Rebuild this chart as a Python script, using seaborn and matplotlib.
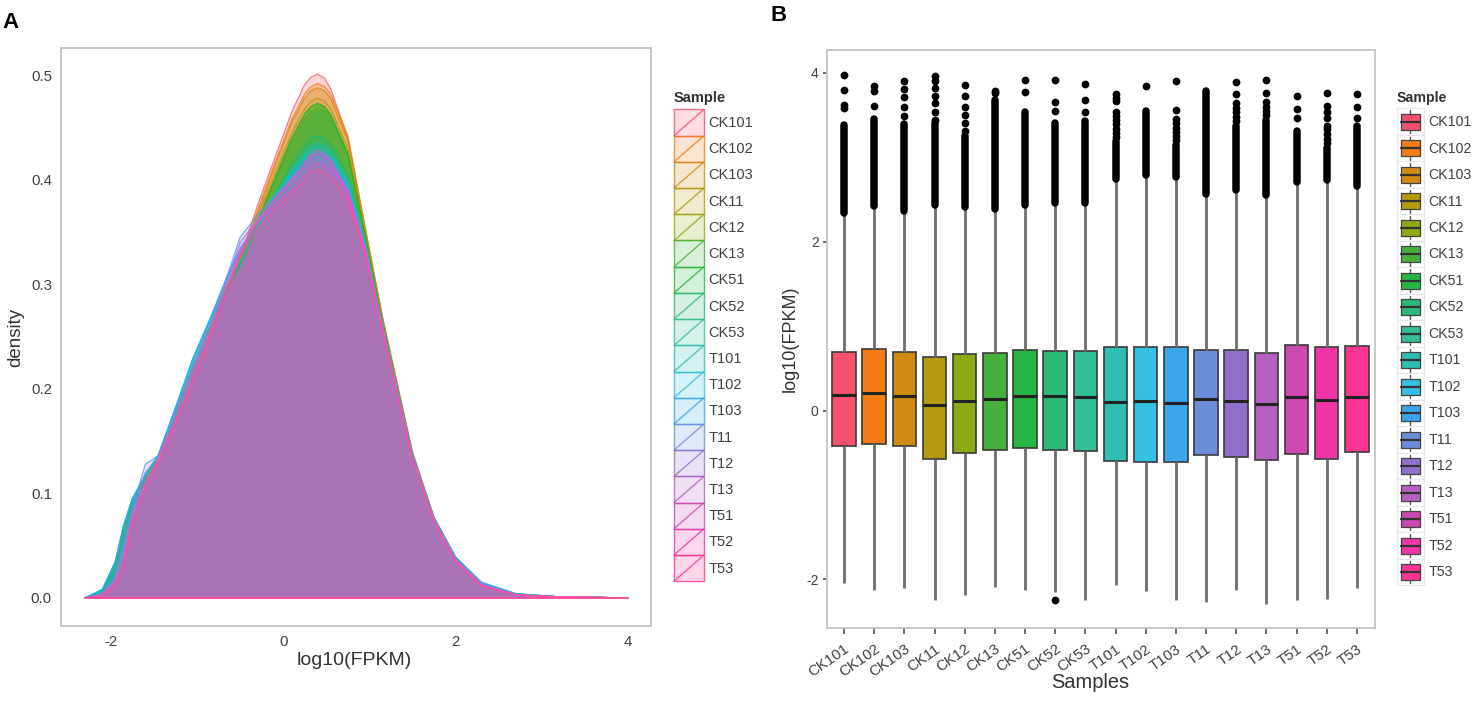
import numpy as np
import pandas as pd
import matplotlib
matplotlib.use("Agg")
import matplotlib.pyplot as plt
from matplotlib.lines import Line2D
from matplotlib.patches import Patch, Rectangle
from matplotlib.legend_handler import HandlerBase
import seaborn as sns

samples = ["CK101", "CK102", "CK103", "CK11", "CK12", "CK13", "CK51", "CK52", "CK53",
           "T101", "T102", "T103", "T11", "T12", "T13", "T51", "T52", "T53"]
colors = ["#F5506E", "#F57C14", "#CE8A12", "#B59A10", "#8CAA14", "#45B03A", "#25B542", "#2DB877", "#35BC98",
          "#2EBDB0", "#35BFE0", "#3AA5E8", "#6C8DD8", "#9070CC", "#B55FC2", "#CC47B0", "#F035A8", "#FF3595"]
density_colors = ["#F6636E", "#EE801D", "#D18E09", "#B69C08", "#90AA0A", "#52B21D", "#12B73C", "#16BB75", "#1ABF9F",
                  "#17BEBA", "#1ABCE1", "#1DA9F1", "#6694EC", "#9F7BE6", "#C868DE", "#E155C9", "#F74BB5", "#FF5097"]
fill_alphas = [.25, .3, .3, .15, .15, .35, .5, .35, .25, .2, .2, .2, .2, .2, .2, .2, .2, .2]

# Panel A: density curves
density_x = [-2.3, -2.1, -1.95, -1.85, -1.75, -1.6, -1.45, -1.25, -1.05, -.85, -.65, -.5, -.3, -.1, .1, .25, .32, .4, .48, .55,
             .75, .95, 1.15, 1.3, 1.5, 1.75, 2.0, 2.3, 2.7, 3.2, 4.0]
d_CK101 = [0, .006, .028, .062, .090, .112, .130, .172, .215, .255, .295, .325, .375, .420, .465, .491, .498, .501, .497, .487, .440, .352, .268, .212, .138, .075, .037, .013, .003, .001, 0]
d_CK102 = [0, .006, .030, .065, .092, .115, .132, .174, .218, .257, .298, .322, .370, .415, .458, .482, .489, .492, .489, .482, .442, .355, .270, .214, .140, .077, .038, .014, .003, .001, 0]
d_CK103 = [0, .007, .031, .067, .093, .115, .133, .175, .218, .256, .296, .322, .368, .412, .455, .478, .485, .488, .485, .478, .438, .354, .268, .212, .138, .076, .037, .013, .003, .001, 0]
d_CK11 = [0, .008, .034, .070, .095, .117, .134, .176, .220, .260, .300, .325, .365, .405, .445, .468, .475, .478, .475, .468, .430, .350, .265, .210, .137, .075, .038, .014, .003, .001, 0]
d_CK12 = [0, .007, .032, .068, .094, .116, .133, .176, .220, .259, .298, .322, .360, .400, .440, .461, .469, .472, .469, .462, .425, .348, .265, .210, .138, .076, .038, .014, .003, .001, 0]
d_CK13 = [0, .007, .030, .066, .092, .114, .132, .175, .220, .258, .297, .320, .358, .398, .436, .458, .465, .468, .466, .460, .424, .347, .264, .210, .137, .075, .037, .013, .003, .001, 0]
d_CK51 = [0, .006, .029, .064, .090, .113, .130, .172, .217, .257, .296, .320, .360, .400, .440, .463, .470, .473, .470, .462, .425, .347, .265, .210, .138, .076, .038, .014, .003, .001, 0]
d_CK52 = [0, .006, .029, .064, .091, .114, .131, .174, .219, .258, .295, .318, .352, .385, .415, .433, .440, .442, .440, .434, .405, .342, .262, .208, .137, .076, .038, .014, .003, .001, 0]
d_CK53 = [0, .007, .031, .066, .093, .116, .134, .177, .222, .261, .300, .322, .352, .382, .410, .426, .433, .435, .433, .428, .400, .340, .262, .208, .138, .077, .039, .014, .004, .001, 0]
d_T101 = [0, .008, .035, .070, .095, .118, .136, .180, .226, .265, .305, .330, .355, .380, .405, .419, .425, .428, .425, .420, .395, .338, .262, .208, .138, .077, .039, .014, .004, .001, 0]
d_T102 = [0, .008, .034, .070, .095, .118, .137, .182, .228, .266, .306, .332, .358, .384, .408, .423, .429, .432, .429, .424, .397, .338, .261, .207, .136, .076, .039, .015, .004, .001, 0]
d_T103 = [0, .007, .032, .067, .093, .117, .136, .182, .229, .267, .308, .334, .358, .381, .404, .417, .423, .425, .423, .418, .393, .336, .260, .206, .136, .076, .039, .015, .004, .001, 0]
d_T11 = [0, .004, .020, .050, .085, .128, .136, .178, .222, .262, .308, .345, .366, .385, .402, .415, .422, .425, .422, .417, .390, .335, .259, .205, .135, .075, .038, .014, .003, .001, 0]
d_T12 = [0, .004, .018, .047, .081, .120, .134, .176, .219, .259, .304, .340, .362, .381, .397, .410, .417, .420, .417, .412, .386, .333, .258, .205, .135, .075, .037, .013, .003, .001, 0]
d_T13 = [0, .003, .016, .042, .077, .112, .132, .172, .216, .256, .300, .334, .360, .381, .400, .416, .425, .428, .425, .419, .390, .336, .260, .206, .136, .075, .037, .013, .003, .001, 0]
d_T51 = [0, .002, .013, .033, .071, .106, .130, .167, .208, .250, .296, .330, .358, .376, .390, .404, .413, .416, .413, .408, .383, .332, .258, .204, .135, .074, .036, .012, .003, .001, 0]
d_T52 = [0, .002, .012, .030, .070, .105, .130, .165, .206, .248, .293, .327, .358, .380, .398, .413, .422, .425, .422, .416, .388, .334, .259, .205, .135, .075, .036, .012, .003, .001, 0]
d_T53 = [0, .002, .012, .031, .072, .107, .131, .167, .208, .250, .294, .326, .352, .372, .386, .399, .407, .410, .407, .403, .380, .331, .257, .204, .135, .074, .036, .012, .003, .001, 0]
density_rows = [d_CK101, d_CK102, d_CK103, d_CK11, d_CK12, d_CK13, d_CK51, d_CK52, d_CK53,
                d_T101, d_T102, d_T103, d_T11, d_T12, d_T13, d_T51, d_T52, d_T53]
density_xticks = [-2, 0, 2, 4]
density_yticks = [0.0, 0.1, 0.2, 0.3, 0.4, 0.5]

# Panel B: box statistics
whisker_lo = [-2.04, -2.12, -2.10, -2.24, -2.18, -2.09, -2.13, -2.15, -2.24, -2.06, -2.14, -2.24, -2.27, -2.12, -2.285, -2.24, -2.23, -2.10]
box_q1 = [-.415, -.40, -.42, -.577, -.498, -.47, -.447, -.462, -.482, -.597, -.605, -.609, -.526, -.553, -.581, -.518, -.577, -.494]
box_med = [.18, .21, .178, .067, .119, .138, .178, .174, .158, .103, .111, .095, .134, .115, .083, .166, .126, .166]
box_q3 = [.69, .727, .695, .64, .664, .68, .715, .71, .704, .751, .755, .751, .723, .723, .68, .779, .751, .767]
whisker_hi = [2.34, 2.417, 2.36, 2.437, 2.41, 2.39, 2.437, 2.46, 2.46, 2.745, 2.79, 2.77, 2.567, 2.615, 2.555, 2.71, 2.73, 2.66]
dense_top = [3.386, 3.456, 3.397, 3.40, 3.25, 3.68, 3.54, 3.41, 3.43, 3.19, 3.55, 3.15, 3.78, 3.37, 3.44, 3.31, 3.11, 3.365]
sparse_fliers = [
    [3.58, 3.62, 3.80, 3.97],
    [3.61, 3.79, 3.84],
    [3.49, 3.60, 3.71, 3.81, 3.90],
    [3.44, 3.54, 3.64, 3.72, 3.82, 3.90, 3.96],
    [3.31, 3.41, 3.50, 3.60, 3.73, 3.86],
    [3.76, 3.79],
    [3.77, 3.91],
    [-2.24, 3.55, 3.66, 3.92],
    [3.53, 3.68, 3.87],
    [3.24, 3.29, 3.34, 3.39, 3.44, 3.49, 3.54, 3.67, 3.70, 3.75],
    [3.84],
    [3.2, 3.25, 3.3, 3.35, 3.4, 3.45, 3.56, 3.90],
    [],
    [3.43, 3.48, 3.53, 3.58, 3.64, 3.75, 3.89],
    [3.50, 3.55, 3.6, 3.66, 3.76, 3.92],
    [3.46, 3.57, 3.73],
    [3.17, 3.22, 3.28, 3.33, 3.37, 3.47, 3.54, 3.61, 3.76],
    [3.47, 3.59, 3.75],
]
box_yticks = [-2, 0, 2, 4]

W, H = 1476, 704
sns.set_theme(style="white")
plt.rcParams["font.family"] = ["Liberation Sans", "DejaVu Sans"]
text_gray = "#404040"
spine_gray = "#c4c4c4"


def px_axes(fig, left, top, right, bottom):
    return fig.add_axes([left / W, 1 - bottom / H, (right - left) / W, (bottom - top) / H])


def style_axes(ax):
    for s in ax.spines.values():
        s.set_color(spine_gray)
        s.set_linewidth(1.3)
        s.set_visible(True)
    ax.grid(False)


class DensityKey(HandlerBase):
    def create_artists(self, legend, h, xd, yd, w, ht, fs, trans):
        x0, y0 = -xd, -yd
        c = h.get_facecolor()[:3]
        r = Rectangle((x0, y0), w, ht, facecolor=(*c, 0.2), edgecolor=(*c, 0.8), lw=1.0, transform=trans)
        l = Line2D([x0, x0 + w], [y0, y0 + ht], color=(*c, 0.8), lw=1.0, transform=trans)
        return [r, l]


class BoxKey(HandlerBase):
    def create_artists(self, legend, h, xd, yd, w, ht, fs, trans):
        x0, y0 = -xd, -yd
        c = h.get_facecolor()[:3]
        frame = Rectangle((x0, y0), w, ht, facecolor="white", edgecolor="#e6e6f0", lw=0.8, transform=trans)
        cx, cy = x0 + w / 2, y0 + ht / 2
        wh = Line2D([cx, cx], [y0 + ht * .07, y0 + ht * .93], color="#555555", lw=1.0, transform=trans)
        box = Rectangle((x0 + w * .13, y0 + ht * .2), w * .74, ht * .6, facecolor=c, edgecolor="#444444", lw=0.9, transform=trans)
        med = Line2D([x0 + w * .13, x0 + w * .87], [cy, cy], color="#333333", lw=1.6, transform=trans)
        return [frame, wh, box, med]


fig = plt.figure(figsize=(W / 100, H / 100), dpi=100, facecolor="white")

# ----- Panel A -----
ax_a = px_axes(fig, 61, 48, 651, 626)
for name, col, alpha, row in zip(samples, density_colors, fill_alphas, density_rows):
    one = pd.DataFrame({"x": density_x, "density": row})
    ax_a.fill_between(one["x"], 0, one["density"], color=col, alpha=alpha, lw=0)
    sns.lineplot(data=one, x="x", y="density", color=col, lw=1.0, alpha=0.8,
                 estimator=None, sort=False, legend=False, ax=ax_a)
    ax_a.hlines(0, density_x[0], density_x[-1], color=col, lw=1.1, alpha=0.85)
ax_a.set_xlim(-2.58, 4.27)
ax_a.set_ylim(-0.0268, 0.526)
ax_a.set_xticks(density_xticks)
ax_a.set_xticklabels([str(v) for v in density_xticks])
ax_a.set_yticks(density_yticks)
ax_a.set_yticklabels([f"{v:.1f}" for v in density_yticks])
style_axes(ax_a)
ax_a.tick_params(axis="both", length=3.5, width=1.1, color="#444444", labelcolor=text_gray, labelsize=10.8, pad=3)
ax_a.set_xlabel("log10(FPKM)", fontsize=14, color="#333333", va="center")
ax_a.xaxis.set_label_coords(0.497, -0.06)
ax_a.set_ylabel("density", fontsize=13.5, color="#333333", va="center")
ax_a.yaxis.set_label_coords(-0.077, 0.5)
h_a = [Patch(facecolor=c, label=s) for s, c in zip(samples, colors)]
leg_a = ax_a.legend(handles=h_a, title="Sample", loc="upper left", bbox_to_anchor=(674 / W, 1 - 91 / H),
                    bbox_transform=fig.transFigure, frameon=False, fontsize=10.5, title_fontsize=10.5,
                    handler_map={Patch: DensityKey()}, handlelength=30 / 14.58, handleheight=2.388,
                    labelspacing=0, borderpad=0, borderaxespad=0, handletextpad=0.3, alignment="left")
leg_a._legend_box.sep = 3.2
leg_a.get_title().set_fontweight("bold")
leg_a.get_title().set_color("#333333")
for t in leg_a.get_texts():
    t.set_color(text_gray)

# ----- Panel B -----
ax_b = px_axes(fig, 827, 50, 1375, 628)
box_df = pd.DataFrame({
    "sample": np.repeat(samples, 5),
    "value": np.column_stack([whisker_lo, box_q1, box_med, box_q3, whisker_hi]).ravel(),
})
sns.boxplot(data=box_df, x="sample", y="value", hue="sample", order=samples, hue_order=samples,
            palette=dict(zip(samples, colors)), dodge=False, width=0.78, saturation=1, whis=(0, 100),
            showcaps=False, showfliers=False, linecolor="#3a3a3a", linewidth=1.2, legend=False,
            whiskerprops={"color": "#6e6e6e", "linewidth": 2.0},
            medianprops={"color": "#222222", "linewidth": 2.2}, ax=ax_b)
flier_df = pd.DataFrame([(s, v) for s, vals in zip(samples, sparse_fliers) for v in vals], columns=["sample", "value"])
sns.stripplot(data=flier_df, x="sample", y="value", order=samples, jitter=False, color="black", size=5.6,
              linewidth=0, legend=False, ax=ax_b)
band = ax_b.vlines(np.arange(len(samples)), whisker_hi, dense_top, color="black", lw=5.4, zorder=4)
band.set_capstyle("round")
ax_b.set_xlim(-0.564, 17.6)
ax_b.set_ylim(-2.575, 4.27)
ax_b.set_yticks(box_yticks)
ax_b.set_yticklabels([str(v) for v in box_yticks])
style_axes(ax_b)
ax_b.tick_params(axis="y", length=3, width=1.1, color="#444444", labelcolor=text_gray, labelsize=10, pad=3, left=True)
ax_b.tick_params(axis="x", length=4, width=1.1, color="#444444", bottom=True, pad=6)
ax_b.set_xticks(range(len(samples)))
ax_b.set_xticklabels(samples, rotation=35, ha="right", rotation_mode="anchor", fontsize=10.8, color=text_gray)
ax_b.set_xlabel("Samples", fontsize=14.4, color="#333333", va="center")
ax_b.xaxis.set_label_coords(0.481, -0.095)
ax_b.set_ylabel("log10(FPKM)", fontsize=13, color="#333333", va="center")
ax_b.yaxis.set_label_coords(-0.067, 0.5)
h_b = [Patch(facecolor=c, label=s) for s, c in zip(samples, colors)]
leg_b = ax_b.legend(handles=h_b, title="Sample", loc="upper left", bbox_to_anchor=(1397 / W, 1 - 91 / H),
                    bbox_transform=fig.transFigure, frameon=False, fontsize=10.2, title_fontsize=10.2,
                    handler_map={Patch: BoxKey()}, handlelength=27 / 14.17, handleheight=2.5,
                    labelspacing=0, borderpad=0, borderaxespad=0, handletextpad=0.3, alignment="left")
leg_b._legend_box.sep = 2.5
leg_b.get_title().set_fontweight("bold")
leg_b.get_title().set_color("#333333")
for t in leg_b.get_texts():
    t.set_color(text_gray)

fig.text(2 / W, 1 - 28 / H, "A", fontsize=16, fontweight="bold", color="black", va="baseline")
fig.text(770 / W, 1 - 21 / H, "B", fontsize=16, fontweight="bold", color="black", va="baseline")

fig.savefig("out.png", dpi=100)
